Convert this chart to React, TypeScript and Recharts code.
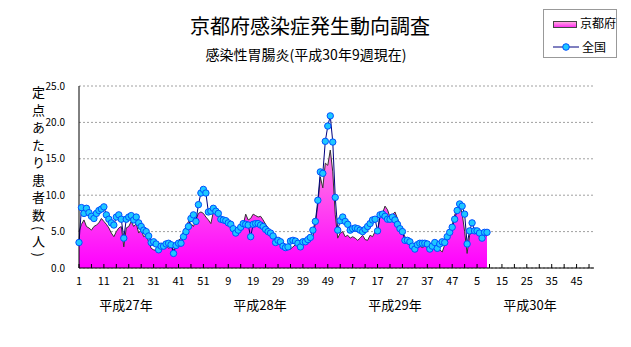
import { ComposedChart, Area, Line, XAxis, YAxis, CartesianGrid } from "recharts"

const font = '"Noto Sans CJK JP", "Noto Sans", sans-serif'

const yearLabels = ["平成27年", "平成28年", "平成29年", "平成30年"]
const weeksPerYear = 52
const yTicks = [0, 5, 10, 15, 20, 25]

// 京都府 (定点あたり)
const kyoto2015 = [5.0, 6.0, 6.6, 5.7, 5.5, 5.2, 5.7, 5.9, 6.2, 6.8, 6.4, 6.0, 5.5, 4.8, 4.3, 5.0, 5.5, 5.7, 2.9, 5.5, 5.7, 6.4, 5.7, 6.1, 4.8, 5.2, 4.3, 4.5, 3.6, 2.7, 2.5, 2.4, 2.7, 2.5, 2.9, 3.2, 2.7, 2.9, 2.5, 3.2, 3.8, 4.1, 5.0, 5.7, 6.4, 6.1, 5.7, 6.6, 7.5, 7.7, 7.5, 7.0]
const kyoto2016 = [6.6, 6.1, 7.7, 7.5, 7.5, 7.2, 6.6, 6.2, 5.9, 5.8, 5.7, 5.2, 4.9, 5.2, 5.9, 7.4, 6.6, 6.8, 7.4, 7.2, 7.0, 7.1, 6.6, 6.0, 5.5, 5.1, 4.8, 4.4, 4.0, 3.6, 3.5, 2.8, 2.7, 2.6, 2.9, 3.2, 3.1, 3.4, 3.6, 3.8, 3.7, 4.0, 4.3, 6.1, 8.7, 12.5, 11.0, 14.4, 14.1, 16.2, 13.2, 7.3]
const kyoto2017 = [4.1, 4.8, 5.0, 4.3, 4.5, 4.1, 4.3, 4.1, 3.8, 4.1, 4.5, 3.9, 3.8, 4.5, 4.3, 5.0, 4.8, 7.2, 7.5, 8.5, 8.0, 7.0, 7.3, 7.7, 6.8, 5.9, 5.0, 4.3, 3.6, 3.3, 3.0, 2.2, 2.8, 3.0, 2.8, 3.0, 2.8, 2.5, 3.2, 3.2, 2.9, 2.5, 2.2, 3.2, 3.8, 4.5, 5.9, 7.3, 8.0, 8.7, 7.5, 5.0]
const kyoto2018 = [2.0, 4.5, 5.2, 5.0, 4.8, 4.3, 3.8, 4.5, 4.4]

// 全国
const zenkoku2015 = [3.5, 8.3, 7.5, 8.2, 7.6, 7.1, 6.8, 7.5, 7.9, 8.1, 8.4, 7.3, 6.7, 6.2, 5.9, 7.0, 7.3, 6.7, 4.1, 6.7, 7.0, 7.2, 6.6, 7.0, 6.2, 5.7, 5.2, 5.0, 4.4, 3.5, 3.6, 3.3, 2.5, 3.0, 3.0, 3.3, 3.4, 3.2, 2.0, 3.1, 3.4, 3.4, 4.3, 5.0, 5.7, 6.8, 7.3, 6.4, 8.7, 10.3, 10.8, 10.3]
const zenkoku2016 = [7.7, 7.8, 8.2, 7.8, 7.5, 6.7, 6.6, 6.5, 6.2, 6.0, 5.4, 4.8, 5.2, 5.6, 6.1, 6.0, 5.9, 4.3, 6.0, 6.1, 6.1, 5.9, 5.7, 5.3, 5.0, 4.8, 4.4, 3.5, 3.8, 3.6, 3.0, 2.8, 2.9, 3.7, 3.8, 3.7, 3.4, 2.9, 3.6, 3.6, 3.9, 4.2, 5.2, 6.4, 9.3, 13.2, 13.0, 17.4, 19.5, 20.9, 17.3, 9.7]
const zenkoku2017 = [5.2, 6.5, 7.0, 6.4, 6.0, 5.2, 5.4, 5.5, 5.4, 5.2, 5.0, 5.3, 5.7, 6.1, 6.6, 6.7, 5.1, 7.3, 7.4, 7.1, 6.7, 6.7, 7.0, 6.6, 6.0, 5.4, 5.0, 3.8, 3.8, 3.6, 3.0, 2.6, 3.2, 3.4, 3.4, 3.4, 3.3, 2.6, 3.0, 3.5, 2.7, 3.3, 3.6, 3.5, 4.3, 4.9, 5.6, 6.7, 7.9, 8.8, 8.5, 7.4]
const zenkoku2018 = [3.3, 5.1, 6.2, 5.1, 5.1, 4.8, 4.1, 4.9, 4.9]

const kyotoByYear = [kyoto2015, kyoto2016, kyoto2017, kyoto2018]
const zenkokuByYear = [zenkoku2015, zenkoku2016, zenkoku2017, zenkoku2018]

const rows = yearLabels.flatMap((_, y) =>
  Array.from({ length: weeksPerYear }, (_, w) => ({
    idx: y * weeksPerYear + w,
    week: w + 1,
    kyoto: kyotoByYear[y][w] ?? null,
    zenkoku: zenkokuByYear[y][w] ?? null,
  }))
)

const xTicks = rows.filter((r) => r.idx % 5 === 0).map((r) => r.idx)

// year captions under the axis (pixel centers)
const yearPos = [126, 260, 395, 530]

function WeekTick(props: any) {
  const { x, y, payload } = props
  const idx = payload.value as number
  return (
    <g>
      <line x1={x} y1={y} x2={x} y2={y - 4} stroke="#000" strokeWidth={1} />
      {idx % 10 === 0 && (
        <text x={x} y={y + 17} textAnchor="middle" fontSize={11} fontFamily={font} fill="#000">
          {rows[idx].week}
        </text>
      )}
    </g>
  )
}

export default function App() {
  return (
    <div style={{ position: "relative", width: 631, height: 347, background: "#fff", fontFamily: font }}>
      <style>{"body{margin:0}"}</style>

      {/* Title */}
      <div style={{ position: "absolute", left: 0, top: 14, width: 620, textAlign: "center", fontSize: 20, lineHeight: "24px", color: "#000" }}>
        京都府感染症発生動向調査
      </div>
      <div style={{ position: "absolute", left: 0, top: 45, width: 612, textAlign: "center", fontSize: 14, lineHeight: "18px", color: "#000" }}>
        感染性胃腸炎(平成30年9週現在)
      </div>

      {/* Legend */}
      <div style={{ position: "absolute", left: 543, top: 9, width: 72, height: 47, border: "1px solid #999", background: "#fff", fontSize: 12, color: "#000" }}>
        <div style={{ position: "absolute", left: 9, top: 11, width: 22, height: 5, border: "1px solid #444", background: "linear-gradient(#ffa8e0, #ff30f0)" }} />
        <div style={{ position: "absolute", left: 36, top: 5, lineHeight: "16px" }}>京都府</div>
        <svg style={{ position: "absolute", left: 9, top: 31 }} width={26} height={12}>
          <line x1={0} y1={6} x2={26} y2={6} stroke="#000080" strokeWidth={1} />
          <circle cx={13} cy={6} r={3.3} fill="#1ec8ff" stroke="#0050ff" strokeWidth={1} />
        </svg>
        <div style={{ position: "absolute", left: 38, top: 29, lineHeight: "16px" }}>全国</div>
      </div>

      {/* Y axis caption */}
      <div style={{ position: "absolute", left: 30, top: 86, writingMode: "vertical-rl", fontSize: 13, letterSpacing: 4.5, lineHeight: "16px", color: "#000" }}>
        定点あたり患者数(人)
      </div>

      {/* Year captions */}
      {yearLabels.map((label, i) => (
        <div key={label} style={{ position: "absolute", left: yearPos[i] - 40, top: 296, width: 80, textAlign: "center", fontSize: 13, lineHeight: "18px", color: "#000" }}>
          {label}
        </div>
      ))}

      <div style={{ position: "absolute", left: 0, top: 0 }}>
        <ComposedChart width={631} height={347} data={rows} margin={{ top: 86, right: 37, bottom: 0, left: 0 }}>
          <defs>
            <linearGradient id="kyotoFill" gradientUnits="userSpaceOnUse" x1="0" y1="120" x2="0" y2="268">
              <stop offset="0%" stopColor="#ffa8dc" />
              <stop offset="100%" stopColor="#ff00ff" />
            </linearGradient>
          </defs>
          <CartesianGrid horizontal vertical={false} stroke="#a0a0a0" strokeDasharray="2 2" />
          <XAxis
            dataKey="idx"
            type="category"
            scale="point"
            height={79}
            ticks={xTicks}
            interval={0}
            tickSize={0}
            tickMargin={0}
            tick={<WeekTick />}
            axisLine={{ stroke: "#000" }}
            tickLine={false}
          />
          <YAxis
            width={79}
            domain={[0, 25]}
            ticks={yTicks}
            tickFormatter={(v: number) => v.toFixed(1)}
            tick={{ fontSize: 10, fill: "#000", fontFamily: font }}
            tickLine={false}
            tickMargin={8}
            axisLine={{ stroke: "#000" }}
          />
          <Area
            type="linear"
            dataKey="kyoto"
            stroke="#333"
            strokeWidth={1}
            fill="url(#kyotoFill)"
            fillOpacity={1}
            isAnimationActive={false}
            activeDot={false}
          />
          <Line
            type="linear"
            dataKey="zenkoku"
            stroke="#000080"
            strokeWidth={1}
            dot={{ r: 3.2, fill: "#1ec8ff", stroke: "#0050ff", strokeWidth: 1 }}
            activeDot={false}
            isAnimationActive={false}
          />
        </ComposedChart>
      </div>
    </div>
  )
}
